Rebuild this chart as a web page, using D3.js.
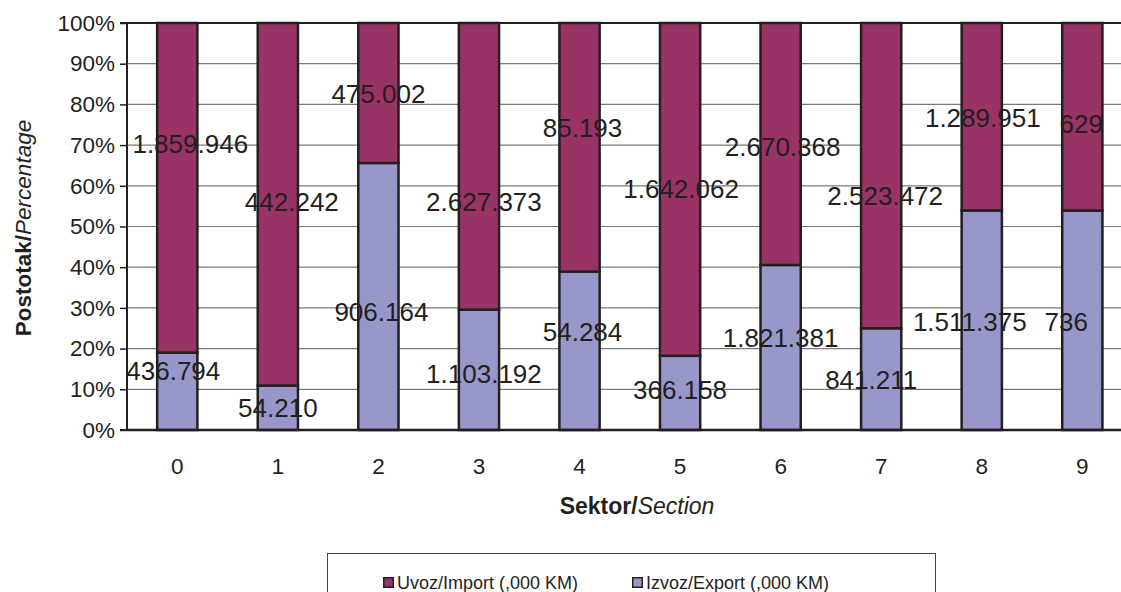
<!DOCTYPE html>
<html>
<head>
<meta charset="utf-8">
<script src="https://cdn.jsdelivr.net/npm/d3@7"></script>
<style>
  html, body { margin: 0; padding: 0; background: #fff; }
  svg { display: block; font-family: "Liberation Sans", Arial, sans-serif; }
</style>
</head>
<body>
<svg id="chart" width="1121" height="592"></svg>
<script>
// ---- data ----
const sectors = ["0", "1", "2", "3", "4", "5", "6", "7", "8", "9"];
const importValues = [1859946, 442242, 475002, 2627373, 85193, 1642062, 2670368, 2523472, 1289951, 629];
const exportValues = [436794, 54210, 906164, 1103192, 54284, 366158, 1821381, 841211, 1511375, 736];
const yTicks = [0, 0.1, 0.2, 0.3, 0.4, 0.5, 0.6, 0.7, 0.8, 0.9, 1.0];
const seriesNames = ["Uvoz/Import (,000 KM)", "Izvoz/Export (,000 KM)"];
// manual label nudges (px) as placed in the original [dx, dy]
const importNudge = [[13, -44], [14, -2], [0, 1], [5, 36], [3, -19], [1, 0], [2, 3], [4, 20], [1, 1], [-1, 7]];
const exportNudge = [[-4, -20], [0, 0], [3, 15], [5, 4], [3, -19], [0, -3], [0, -10], [-10, 1], [-12, 2], [-16, 2]];

// ---- layout ----
const svg = d3.select("#chart");
const M = { left: 127, top: 23, bottom: 430 };
const bandW = 100.56;
const plotRight = M.left + bandW * sectors.length;
const ink = "#231f20";
const colImport = "#993366";
const colExport = "#9797c9";

const x = d3.scaleBand().domain(sectors).range([M.left, plotRight]).paddingInner(0.6).paddingOuter(0.3);
const y = d3.scaleLinear().domain([0, 1]).range([M.bottom, M.top]);

const locale = d3.formatLocale({ decimal: ",", thousands: ".", grouping: [3], currency: ["", ""] });
const fmt = locale.format(",d");

// gridlines
svg.append("g").selectAll("line").data(yTicks.slice(1, -1)).join("line")
  .attr("x1", M.left).attr("x2", plotRight)
  .attr("y1", d => y(d)).attr("y2", d => y(d))
  .attr("stroke", "#7a7a7a").attr("stroke-width", 1.2);

// top border
svg.append("line").attr("x1", M.left).attr("x2", plotRight)
  .attr("y1", y(1)).attr("y2", y(1)).attr("stroke", ink).attr("stroke-width", 2);

const rows = sectors.map((s, i) => {
  const tot = importValues[i] + exportValues[i];
  return { s, i, exp: exportValues[i] / tot, imp: importValues[i] / tot };
});

// bars
const bars = svg.append("g");
bars.selectAll("rect.exp").data(rows).join("rect").attr("class", "exp")
  .attr("x", d => x(d.s)).attr("width", x.bandwidth())
  .attr("y", d => y(d.exp)).attr("height", d => y(0) - y(d.exp))
  .attr("fill", colExport).attr("stroke", ink).attr("stroke-width", 2.5);
bars.selectAll("rect.imp").data(rows).join("rect").attr("class", "imp")
  .attr("x", d => x(d.s)).attr("width", x.bandwidth())
  .attr("y", d => y(1)).attr("height", d => y(d.exp) - y(1))
  .attr("fill", colImport).attr("stroke", ink).attr("stroke-width", 2.5);

// y axis
const yAxis = d3.axisLeft(y).tickValues(yTicks).tickFormat(d => Math.round(d * 100) + "%").tickSize(7).tickPadding(5);
const gy = svg.append("g").attr("transform", `translate(${M.left},0)`).call(yAxis);
gy.select(".domain").attr("stroke", ink).attr("stroke-width", 2).attr("d", `M-7,${y(1)}H0V${y(0)}H-7`);
gy.selectAll(".tick line").attr("stroke", ink).attr("stroke-width", 1.5);
gy.selectAll(".tick text").attr("font-size", 22.5).attr("fill", ink).attr("font-family", "Liberation Sans, Arial, sans-serif");

// x axis
const xAxis = d3.axisBottom(x).tickSize(0).tickPadding(28);
const gx = svg.append("g").attr("transform", `translate(0,${M.bottom})`).call(xAxis);
gx.select(".domain").attr("stroke", ink).attr("stroke-width", 2.5).attr("d", `M${M.left},0H${plotRight}`);
gx.selectAll(".tick text").attr("font-size", 22.5).attr("fill", ink).attr("font-family", "Liberation Sans, Arial, sans-serif");

// data labels
const lab = svg.append("g").attr("font-size", 26).attr("fill", ink).attr("text-anchor", "middle");
lab.selectAll("text.ti").data(rows).join("text").attr("class", "ti")
  .attr("x", d => x(d.s) + x.bandwidth() / 2 + importNudge[d.i][0])
  .attr("y", d => y((d.exp + 1) / 2) + importNudge[d.i][1])
  .attr("dy", "0.35em")
  .text(d => fmt(importValues[d.i]));
lab.selectAll("text.te").data(rows).join("text").attr("class", "te")
  .attr("x", d => x(d.s) + x.bandwidth() / 2 + exportNudge[d.i][0])
  .attr("y", d => y(d.exp / 2) + exportNudge[d.i][1])
  .attr("dy", "0.35em")
  .text(d => fmt(exportValues[d.i]));

// axis titles
const yt = svg.append("text").attr("transform", `translate(31,${228}) rotate(-90)`)
  .attr("text-anchor", "middle").attr("font-size", 22.5).attr("fill", ink);
yt.append("tspan").attr("font-weight", "bold").text("Postotak/");
yt.append("tspan").attr("font-style", "italic").text("Percentage");

const xt = svg.append("text").attr("x", 637).attr("y", 514)
  .attr("text-anchor", "middle").attr("font-size", 23).attr("fill", ink);
xt.append("tspan").attr("font-weight", "bold").text("Sektor/");
xt.append("tspan").attr("font-style", "italic").text("Section");

// legend
const lg = svg.append("g");
lg.append("rect").attr("x", 327.5).attr("y", 553.5).attr("width", 608).attr("height", 60)
  .attr("fill", "#fff").attr("stroke", "#444").attr("stroke-width", 1);
const legendItems = [
  { name: seriesNames[0], color: colImport, x: 383 },
  { name: seriesNames[1], color: colExport, x: 632 }
];
const li = lg.selectAll("g.item").data(legendItems).join("g").attr("class", "item")
  .attr("transform", d => `translate(${d.x},577)`);
li.append("rect").attr("x", 0.75).attr("y", 0.75).attr("width", 9.5).attr("height", 9.5)
  .attr("fill", d => d.color).attr("stroke", ink).attr("stroke-width", 1.5);
li.append("text").attr("x", 14).attr("y", 5.5).attr("dy", "0.35em")
  .attr("font-size", 18).attr("fill", ink).text(d => d.name);
</script>
</body>
</html>
